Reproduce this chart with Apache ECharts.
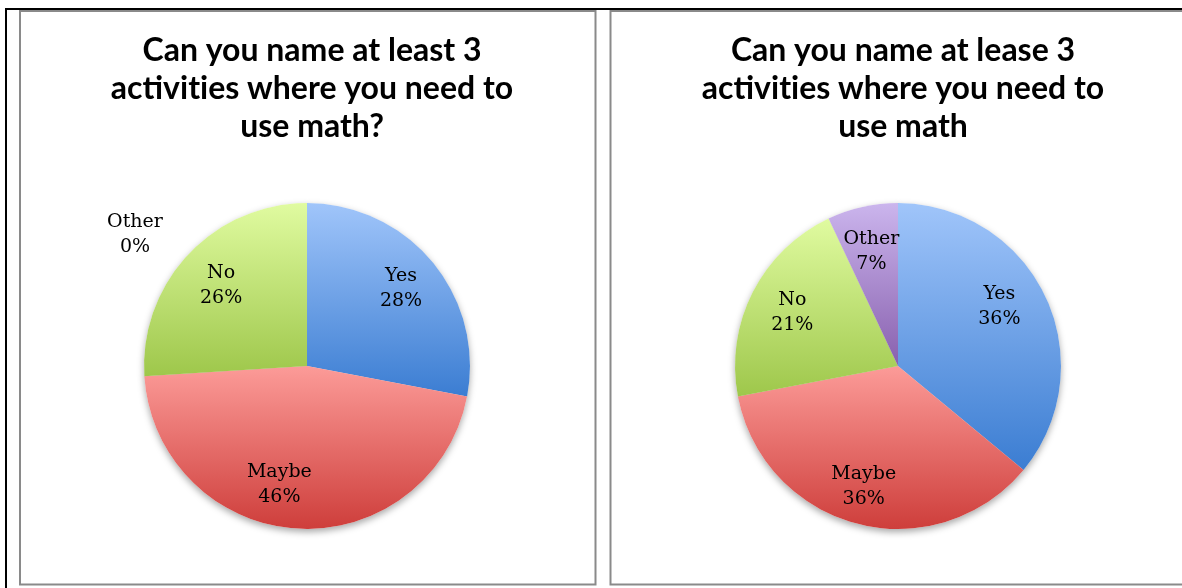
<!DOCTYPE html>
<html>
<head>
<meta charset="utf-8">
<script src="https://cdn.jsdelivr.net/npm/echarts@6/dist/echarts.min.js"></script>
<style>
  html, body { margin: 0; padding: 0; background: #fff; }
  #box { width: 1182px; height: 588px; }
</style>
</head>
<body>
<div id="box"></div>
<script>
// data
var categories = ['Yes', 'Maybe', 'No', 'Other'];
var leftValues = [28, 46, 26, 0];
var rightValues = [36, 36, 21, 7];
// \u200c keeps Lato from turning "ti" into a ligature
var leftTitle = 'Can you name at least 3\nactivit\u200cies where you need to\nuse math?';
var rightTitle = 'Can you name at lease 3\nactivit\u200cies where you need to\nuse math';

// top/bottom gradient stops for each slice
var colorList = [
    ['#a0c5fa', '#3b7dd2'],
    ['#fc9b98', '#ce3e3b'],
    ['#e0fba0', '#9ec74b'],
    ['#cbb5ed', '#8860ae']
];

// small nudges so labels sit where the original put them
var leftLabelShift = [null, [-20, -3], [3, 3], [-172, -9]];
var rightLabelShift = [[-9, -7], [-4, 2], [3, 2], [0, 5]];

function grad(c) {
    return {
        type: 'linear', x: 0, y: 0, x2: 0, y2: 1,
        colorStops: [{ offset: 0, color: c[0] }, { offset: 1, color: c[1] }]
    };
}

function makeData(values, shifts) {
    return values.map(function (v, i) {
        var item = { name: categories[i], value: v };
        if (shifts && shifts[i]) {
            item.label = { offset: shifts[i] };
        }
        return item;
    });
}

var labelFont = {
    color: '#000',
    fontFamily: 'DejaVu Serif',
    fontSize: 19,
    lineHeight: 25
};

// each pie = shadow layer + coloured slices + a wider invisible ring that carries the labels
function pieSet(center, values, shifts) {
    return [{
        type: 'pie', center: center, radius: 163, startAngle: 90, clockwise: true,
        silent: true, z: 1, label: { show: false }, labelLine: { show: false },
        itemStyle: { color: '#fff', shadowBlur: 7, shadowOffsetY: 3, shadowColor: 'rgba(0,0,0,0.35)' },
        data: makeData(values)
    }, {
        type: 'pie', center: center, radius: 163, startAngle: 90, clockwise: true,
        z: 2, label: { show: false }, labelLine: { show: false },
        itemStyle: {
            borderWidth: 0,
            color: function (params) { return grad(colorList[params.dataIndex]); }
        },
        data: makeData(values)
    }, {
        type: 'pie', center: center, radius: 238, startAngle: 90, clockwise: true,
        silent: true, z: 3, percentPrecision: 0, avoidLabelOverlap: false,
        itemStyle: { color: 'transparent' },
        labelLine: { show: false },
        label: Object.assign({ show: true, position: 'inside', formatter: '{b}\n{d}%' }, labelFont),
        data: makeData(values, shifts)
    }];
}

var titleStyle = {
    fontFamily: 'Lato',
    fontWeight: 'bold',
    fontSize: 32,
    lineHeight: 38,
    color: '#000'
};

var chart = echarts.init(document.getElementById('box'));
var option = {
    backgroundColor: '#fff',
    animation: false,
    title: [
        { text: leftTitle, left: 307, top: 27, textAlign: 'center', textStyle: titleStyle },
        { text: rightTitle, left: 898, top: 27, textAlign: 'center', textStyle: titleStyle }
    ],
    graphic: [
        { type: 'line', shape: { x1: 5, y1: 9, x2: 1182, y2: 9 }, style: { stroke: '#000', lineWidth: 2 } },
        { type: 'line', shape: { x1: 6, y1: 8, x2: 6, y2: 588 }, style: { stroke: '#000', lineWidth: 2 } },
        { type: 'rect', shape: { x: 20, y: 11, width: 575.5, height: 573.5 }, style: { fill: 'none', stroke: '#8a8a8a', lineWidth: 2 } },
        { type: 'rect', shape: { x: 610.5, y: 11, width: 600, height: 573.5 }, style: { fill: 'none', stroke: '#8a8a8a', lineWidth: 2 } }
    ],
    series: [].concat(
        pieSet([307, 366], leftValues, leftLabelShift),
        pieSet([898, 366], rightValues, rightLabelShift)
    )
};
chart.setOption(option);
</script>
</body>
</html>
